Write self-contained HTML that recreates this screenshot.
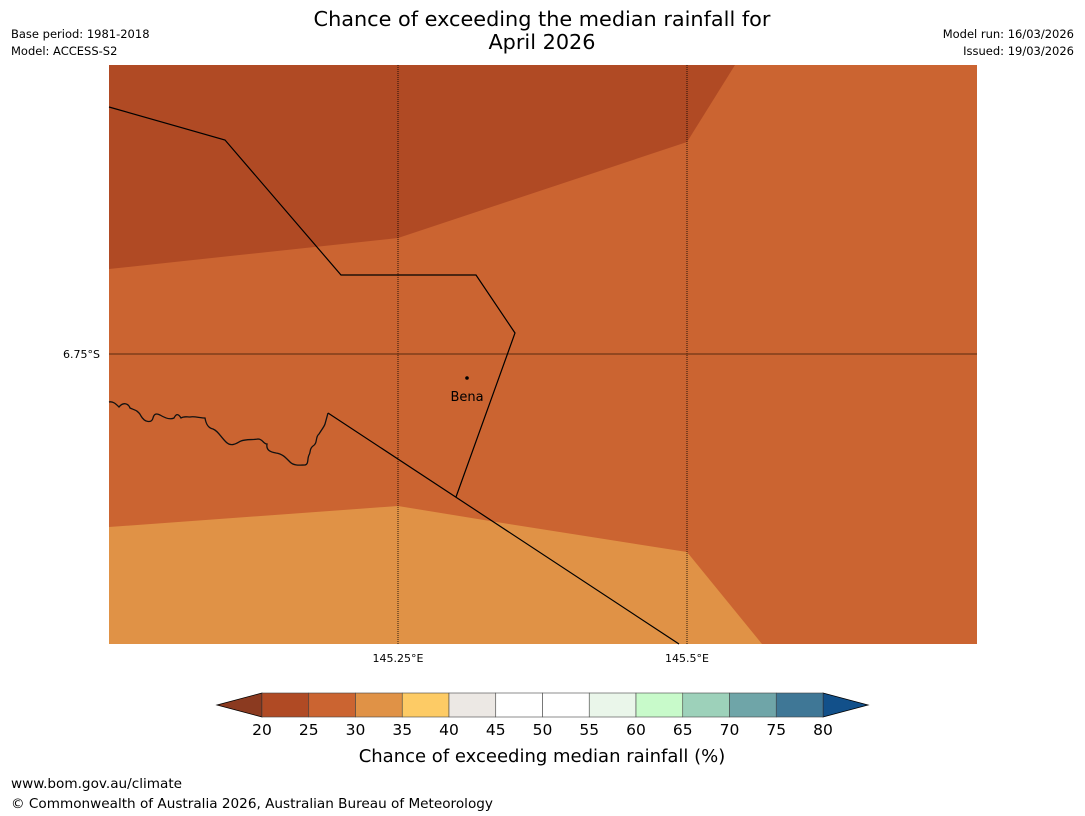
<!DOCTYPE html>
<html><head><meta charset="utf-8"><style>
body{margin:0;background:#fff;font-family:"Liberation Sans",sans-serif;}
svg{display:block}
</style></head><body>
<svg width="1085" height="816" viewBox="0 0 1085 816">
<text x="542" y="26" text-anchor="middle" font-size="20.8" font-family="DejaVu Sans, sans-serif">Chance of exceeding the median rainfall for</text>
<text x="542" y="49" text-anchor="middle" font-size="20.8" font-family="DejaVu Sans, sans-serif">April 2026</text>
<g font-size="11.5" font-family="DejaVu Sans, sans-serif">
<text x="11" y="38">Base period: 1981-2018</text>
<text x="11" y="55">Model: ACCESS-S2</text>
<text x="1074" y="38" text-anchor="end">Model run: 16/03/2026</text>
<text x="1074" y="55" text-anchor="end">Issued: 19/03/2026</text>
</g>
<g>
<rect x="109" y="65" width="868" height="579" fill="#CB6431"/>
<polygon points="109,65 735,65 687,142 398,238 109,269" fill="#B04A24"/>
<polygon points="109,527 398,506 490,521 687,552 762,644 109,644" fill="#E09246"/>
<line x1="398" y1="65" x2="398" y2="644" stroke="#000" stroke-width="0.8" stroke-dasharray="1,1"/>
<line x1="687" y1="65" x2="687" y2="644" stroke="#000" stroke-width="0.8" stroke-dasharray="1,1"/>
<line x1="109" y1="354" x2="977" y2="354" stroke="#5a2a10" stroke-width="1"/>
<polyline points="109,107 225,140 341,275 476,275 515,333 456,497" fill="none" stroke="#000" stroke-width="1.2"/>
<line x1="328" y1="413" x2="679" y2="644" stroke="#000" stroke-width="1.2"/>
<path d="M109,402 C113,401 116,404 119,407 C123,402 128,403 130,408 C134,410 138,410 141,416 C145,423 152,423 153,418 C154,414 156,413 160,415 C165,418 170,420 174,418 C176,414 178,413 181,418 C184,416 187,417 190,417 C194,416 200,418 205,418 C206,424 208,428 213,429 C218,431 220,436 226,442 C232,448 238,442 241,441 C246,439 253,440 258,439 C263,439 263,444 267,444 C266,450 270,452 276,453 C283,454 286,458 290,462 C294,466 300,465 305,465 C309,464 307,459 309,455 C311,452 309,449 313,446 C318,443 315,437 319,434 C322,429 324,427 325,424 L328,413" fill="none" stroke="#111" stroke-width="1.3"/>
<circle cx="467" cy="378" r="1.8" fill="#000"/>
<text x="467" y="401" text-anchor="middle" font-size="13" font-family="DejaVu Sans, sans-serif">Bena</text>
</g>
<g font-size="11" font-family="DejaVu Sans, sans-serif">
<text x="100" y="358" text-anchor="end">6.75°S</text>
<text x="398" y="662" text-anchor="middle">145.25°E</text>
<text x="687" y="662" text-anchor="middle">145.5°E</text>
</g>
<g id="cbar"></g>
<text x="542" y="762" text-anchor="middle" font-size="18" font-family="DejaVu Sans, sans-serif">Chance of exceeding median rainfall (%)</text>
<text x="11" y="788" font-size="13.6" font-family="DejaVu Sans, sans-serif">www.bom.gov.au/climate</text>
<text x="11" y="808" font-size="13.6" font-family="DejaVu Sans, sans-serif">© Commonwealth of Australia 2026, Australian Bureau of Meteorology</text>
</svg>
<script>
const binColors=["#B04A24","#CB6431","#E09246","#FDCB65","#ECE8E4","#FFFFFF","#FFFFFF","#EAF6EA","#C8FACA","#9DD1BA","#6FA5A8","#3F7796"];
const tickLabels=["20","25","30","35","40","45","50","55","60","65","70","75","80"];
const extendColors=["#8B3A20","#12508A"];
const ns="http://www.w3.org/2000/svg";
const g=document.getElementById('cbar');
const x0=262,x1=823,y0=693,y1=717;
const w=(x1-x0)/binColors.length;
function mk(t,a){const e=document.createElementNS(ns,t);for(const k in a)e.setAttribute(k,a[k]);g.appendChild(e);return e;}
const lt=mk('polygon',{points:`${x0},${y0} ${x0},${y1} 217,705`,fill:extendColors[0],stroke:'#000','stroke-width':0.8});


const rt=mk('polygon',{points:`${x1},${y0} ${x1},${y1} 868,705`,fill:extendColors[1],stroke:'#000','stroke-width':0.8});


binColors.forEach((c,i)=>{
 const r=mk('rect',{x:x0+i*w,y:y0,width:w,height:y1-y0,fill:c,stroke:'#444','stroke-width':0.6});
 
 
});
tickLabels.forEach((t,i)=>{
 const tx=mk('text',{x:x0+i*w,y:735,'text-anchor':'middle','font-size':15.5,'font-family':'DejaVu Sans, sans-serif'});
 tx.textContent=t;
 
 
});
</script>
</body></html>
